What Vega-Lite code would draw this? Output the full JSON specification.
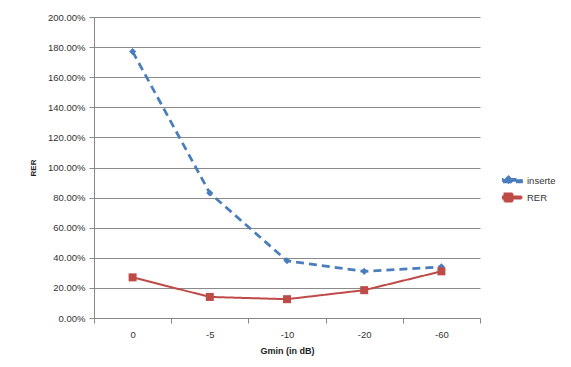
{
  "$schema": "https://vega.github.io/schema/vega-lite/v6.json",
  "width": 386,
  "height": 301,
  "autosize": {"type": "none"},
  "padding": {"left": 94, "top": 17, "right": 91, "bottom": 49},
  "background": "white",
  "config": {
    "font": "Liberation Sans",
    "view": {"stroke": null}
  },
  "data": {
    "values": [
      {"g": "0", "series": "inserte", "v": 1.77},
      {"g": "-5", "series": "inserte", "v": 0.83},
      {"g": "-10", "series": "inserte", "v": 0.38},
      {"g": "-20", "series": "inserte", "v": 0.31},
      {"g": "-60", "series": "inserte", "v": 0.34},
      {"g": "0", "series": "RER", "v": 0.27},
      {"g": "-5", "series": "RER", "v": 0.14},
      {"g": "-10", "series": "RER", "v": 0.125},
      {"g": "-20", "series": "RER", "v": 0.185},
      {"g": "-60", "series": "RER", "v": 0.31}
    ]
  },
  "encoding": {
    "x": {
      "field": "g",
      "type": "ordinal",
      "sort": null,
      "scale": {"paddingInner": 0, "paddingOuter": 0},
      "axis": {
        "title": "Gmin (in dB)",
        "titleFontSize": 9,
        "titleFontWeight": "bold",
        "titleColor": "#222",
        "titlePadding": 8,
        "labelAngle": 0,
        "labelFontSize": 9.5,
        "labelColor": "#333",
        "labelPadding": 6,
        "tickBand": "extent",
        "tickSize": 5,
        "tickColor": "#888",
        "domainColor": "#888",
        "grid": false
      }
    },
    "y": {
      "field": "v",
      "type": "quantitative",
      "scale": {"domain": [0, 2], "nice": false},
      "axis": {
        "title": "RER",
        "titleFontSize": 8,
        "titleFontWeight": "bold",
        "titleColor": "#222",
        "titlePadding": 10,
        "values": [0, 0.2, 0.4, 0.6, 0.8, 1, 1.2, 1.4, 1.6, 1.8, 2],
        "format": ".2%",
        "labelFontSize": 9.5,
        "labelColor": "#333",
        "labelPadding": 4,
        "tickSize": 5,
        "tickColor": "#888",
        "domainColor": "#888",
        "gridColor": "#8a8a8a",
        "gridOpacity": 1
      }
    },
    "color": {
      "field": "series",
      "type": "nominal",
      "scale": {"domain": ["inserte", "RER"], "range": ["#4a7ebb", "#be4b48"]},
      "legend": {
        "title": null,
        "orient": "none",
        "legendX": 408,
        "legendY": 158,
        "padding": 0,
        "symbolSize": 100,
        "clipHeight": 11,
        "labelOffset": 12,
        "labelFontSize": 9.5,
        "labelColor": "#333",
        "rowPadding": 6,
        "encode": {
          "symbols": {
            "update": {
              "shape": {"signal": "datum.value === 'inserte' ? 'M-2.6,-0.25H2.6V0.25H-2.6Z M0,-0.7L0.7,0L0,0.7L-0.7,0Z' : 'M-2.6,-0.2H2.6V0.2H-2.6Z M-0.8,-0.8H0.8V0.8H-0.8Z'"},
              "fill": {"scale": "color", "field": "value"},
              "stroke": {"value": "transparent"},
              "size": {"value": 100},
              "opacity": {"value": 1}
            }
          }
        }
      }
    }
  },
  "layer": [
    {
      "mark": {"type": "line"},
      "encoding": {
        "strokeDash": {
          "field": "series",
          "type": "nominal",
          "scale": {"domain": ["inserte", "RER"], "range": [[8, 5], [1, 0]]},
          "legend": null
        },
        "strokeWidth": {
          "field": "series",
          "type": "nominal",
          "scale": {"domain": ["inserte", "RER"], "range": [2.75, 2]},
          "legend": null
        }
      }
    },
    {
      "transform": [{"filter": "datum.series === 'inserte'"}],
      "mark": {"type": "point", "filled": true, "opacity": 1, "shape": "diamond", "size": 50}
    },
    {
      "transform": [{"filter": "datum.series === 'RER'"}],
      "mark": {"type": "point", "filled": true, "opacity": 1, "shape": "square", "size": 64}
    }
  ]
}
